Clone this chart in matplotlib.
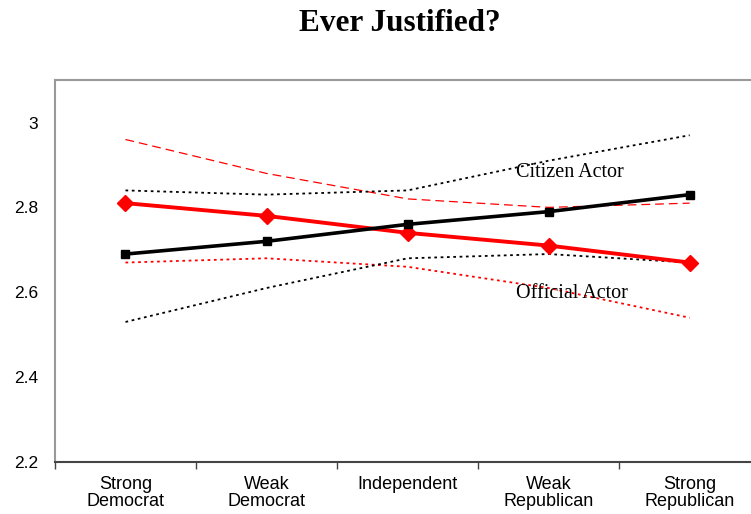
import matplotlib
matplotlib.use("Agg")
import matplotlib.pyplot as plt
import numpy as np

categories = ["Strong\nDemocrat", "Weak\nDemocrat", "Independent", "Weak\nRepublican", "Strong\nRepublican"]

official = [2.81, 2.78, 2.74, 2.71, 2.67]
official_hi = [2.96, 2.88, 2.82, 2.80, 2.81]
official_lo = [2.67, 2.68, 2.66, 2.61, 2.54]

citizen = [2.69, 2.72, 2.76, 2.79, 2.83]
citizen_hi = [2.84, 2.83, 2.84, 2.91, 2.97]
citizen_lo = [2.53, 2.61, 2.68, 2.69, 2.67]

yticks = [2.2, 2.4, 2.6, 2.8, 3.0]
ytick_labels = ["2.2", "2.4", "2.6", "2.8", "3"]


def main():
    x = np.arange(len(categories))
    fig = plt.figure(figsize=(7.51, 5.14), dpi=100)
    ax = fig.add_axes([0.0732, 0.1012, 0.939, 0.743])

    ax.plot(x, official_hi, color="red", lw=0.9, dashes=(7, 4))
    ax.plot(x, official_lo, color="red", lw=1.3, dashes=(1.5, 2))
    ax.plot(x, citizen_hi, color="black", lw=1.3, dashes=(1.5, 2))
    ax.plot(x, citizen_lo, color="black", lw=1.3, dashes=(1.5, 2))

    ax.plot(x, official, color="red", lw=2.8, marker="D", ms=8, zorder=4)
    ax.plot(x, citizen, color="black", lw=2.6, marker="s", ms=6, zorder=5)

    ax.text(2.77, 2.883, "Citizen Actor", family="Liberation Serif", fontsize=14.5,
            va="center", ha="left")
    ax.text(2.77, 2.598, "Official Actor", family="Liberation Serif", fontsize=14.5,
            va="center", ha="left")

    ax.set_xlim(-0.5, 4.5)
    ax.set_ylim(2.2, 3.1)
    ax.set_yticks(yticks)
    ax.set_yticklabels(ytick_labels, family="Liberation Sans", fontsize=12.5)
    ax.tick_params(axis="y", length=0, pad=12)

    ax.set_xticks(x)
    ax.set_xticklabels(categories, family="Liberation Sans", fontsize=13, linespacing=1.0)
    ax.set_xticks(np.arange(-0.5, 4.6, 1), minor=True)
    ax.tick_params(axis="x", which="major", length=0, pad=10)
    ax.tick_params(axis="x", which="minor", length=5, width=1, color="#444444", direction="out")

    ax.spines["right"].set_visible(False)
    ax.spines["left"].set_color("#999999")
    ax.spines["top"].set_color("#999999")
    ax.spines["left"].set_linewidth(1.5)
    ax.spines["top"].set_linewidth(1.5)
    ax.spines["bottom"].set_color("#444444")
    ax.spines["bottom"].set_linewidth(1.5)

    fig.text(0.533, 0.955, "Ever Justified?", family="Liberation Serif", fontweight="bold",
             fontsize=22.5, ha="center", va="center")

    fig.savefig("out.png", dpi=100)


if __name__ == '__main__':
    main()
